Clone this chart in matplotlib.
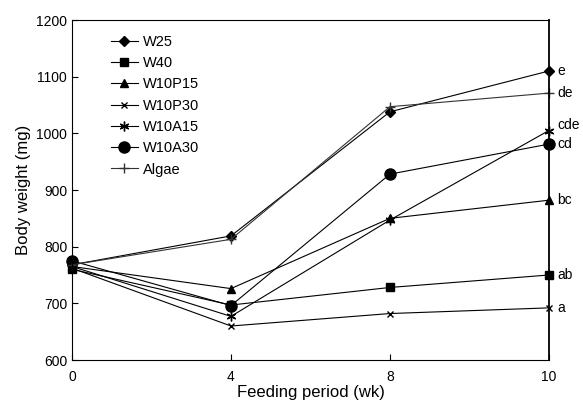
import matplotlib
matplotlib.use("Agg")
import matplotlib.pyplot as plt

plt.rcParams["font.family"] = ["Liberation Sans", "DejaVu Sans"]

weeks = [0, 4, 8, 10]
series_names = ["W25", "W40", "W10P15", "W10P30", "W10A15", "W10A30", "Algae"]
w25 = [768, 819, 1038, 1110]
w40 = [760, 697, 728, 750]
w10p15 = [765, 726, 850, 882]
w10p30 = [762, 660, 682, 692]
w10a15 = [765, 677, 847, 1005]
w10a30 = [775, 696, 928, 981]
algae = [768, 813, 1047, 1071]
sig_labels = ["e", "ab", "bc", "a", "cde", "cd", "de"]

values = [w25, w40, w10p15, w10p30, w10a15, w10a30, algae]
markers = ["D", "s", "^", "x", (6, 2, 0), "o", "+"]
msizes = [5, 6, 6, 5, 7, 8, 7]
colors = ["black"] * 6 + ["#333333"]

fig = plt.figure(figsize=(5.83, 4.0), dpi=100)
ax = fig.add_axes([0.1235, 0.10, 0.818, 0.85])

# weeks are drawn evenly spaced, like the original figure
pos = list(range(len(weeks)))
for name, vals, m, ms, c in zip(series_names, values, markers, msizes, colors):
    ax.plot(pos, vals, marker=m, markersize=ms, color=c, linewidth=0.8,
            markeredgewidth=1.0, label=name, clip_on=False)

for vals, lab in zip(values, sig_labels):
    dy = 10 if lab == "cde" else 0
    ax.annotate(lab, xy=(pos[-1], vals[-1] + dy), xytext=(6, 0),
                textcoords="offset points", va="center", ha="left", fontsize=10)

ax.set_xlim(0, 3)
ax.set_ylim(600, 1200)
ax.set_xticks(pos)
ax.set_xticklabels([str(w) for w in weeks])
ax.set_yticks(range(600, 1201, 100))
ax.tick_params(direction="in", length=4, labelsize=10, width=0.8)
ax.tick_params(axis="x", pad=7)
for s in ax.spines.values():
    s.set_linewidth(0.8)
ax.spines["right"].set_linewidth(1.3)

ax.set_xlabel("Feeding period (wk)", fontsize=12, labelpad=1)
ax.set_ylabel("Body weight (mg)", fontsize=12)

ax.legend(loc="upper left", bbox_to_anchor=(0.055, 0.995), frameon=False,
          fontsize=10.5, handlelength=1.8, labelspacing=0.5, handletextpad=0.35)

fig.savefig("out.png", dpi=100)
